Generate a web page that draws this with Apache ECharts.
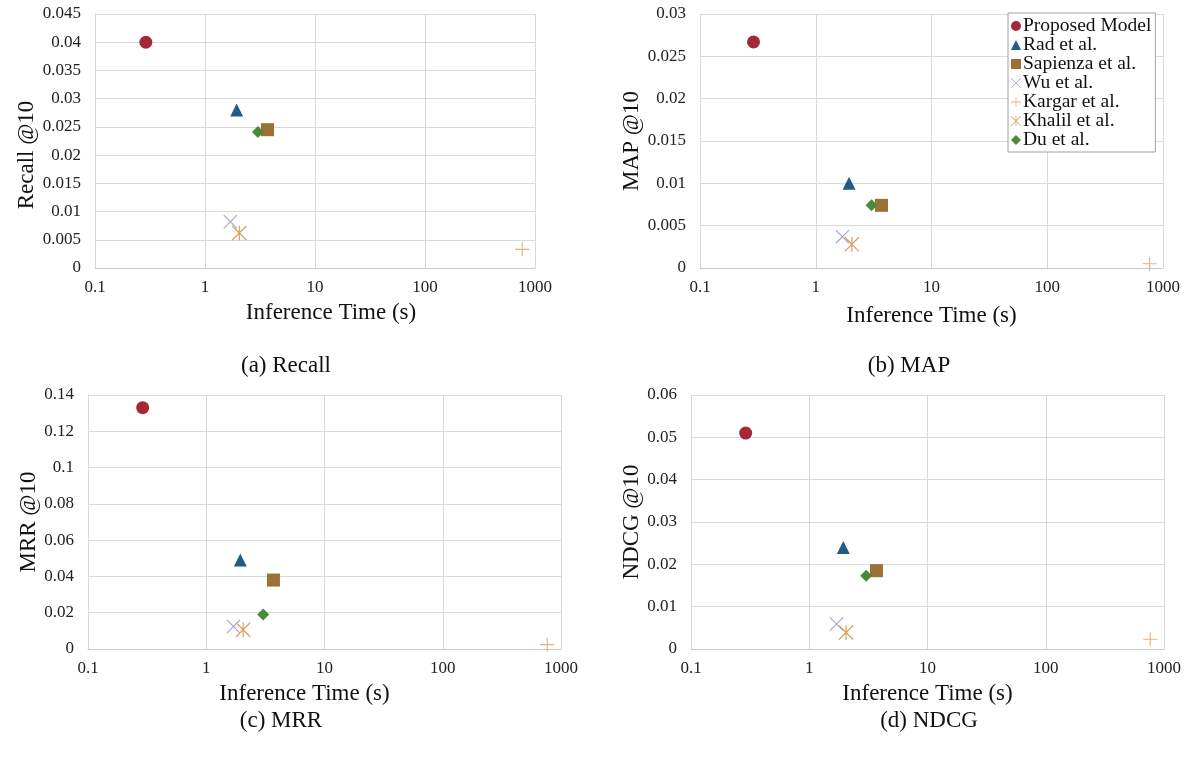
<!DOCTYPE html>
<html>
<head>
<meta charset="utf-8">
<script src="https://cdn.jsdelivr.net/npm/echarts@6/dist/echarts.min.js"></script>
<style>html,body{margin:0;padding:0;background:#fff}#c{width:1199px;height:761px}</style>
</head>
<body>
<div id="c"></div>
<script>
// ---- data ----
const models = ['Proposed Model', 'Rad et al.', 'Sapienza et al.', 'Wu et al.', 'Kargar et al.', 'Khalil et al.', 'Du et al.'];
const inferenceTime = [0.29, 1.94, 3.7, 1.7, 765, 2.05, 3.03];
const recall = [0.040, 0.028, 0.0245, 0.0082, 0.0033, 0.0062, 0.0241];
const map = [0.0267, 0.0100, 0.0074, 0.0037, 0.0005, 0.0028, 0.0074];
const mrr = [0.133, 0.049, 0.038, 0.0124, 0.0024, 0.0106, 0.019];
const ndcg = [0.051, 0.024, 0.0185, 0.0059, 0.0023, 0.0039, 0.0173];
const xTicks = [0.1, 1, 10, 100, 1000];
const panelTitles = ['Recall @10', 'MAP @10', 'MRR @10', 'NDCG @10'];
const captions = ['(a) Recall', '(b) MAP', '(c) MRR', '(d) NDCG'];
const yMax = [0.045, 0.03, 0.14, 0.06];
const yStep = [0.005, 0.005, 0.02, 0.01];

// ---- styles ----
const FONT = 'Liberation Serif';
const colors = ['#A5283A', '#1F5C86', '#9A7236', '#A9A6C8', '#E2B27C', '#D9A264', '#4B8A3C'];
const plusPath = 'path://M4.6,0H5.4V10H4.6ZM0,4.6H10V5.4H0Z';
const xPath = 'path://M0,0.6L0.6,0L10,9.4L9.4,10ZM9.4,0L10,0.6L0.6,10L0,9.4Z';
const starPath = 'path://M0,0.6L0.6,0L10,9.4L9.4,10ZM9.4,0L10,0.6L0.6,10L0,9.4ZM4.6,0H5.4V10H4.6Z';
const symbols = ['circle', 'triangle', 'rect', xPath, plusPath, starPath, 'diamond'];
const sizes = [13, 13, 13, 14, 14, 15, 12];

const grids = [
  {left: 95, width: 440, top: 14, height: 254},
  {left: 700, width: 463, top: 14, height: 254},
  {left: 88, width: 473, top: 395, height: 254},
  {left: 691, width: 473, top: 395, height: 254}
];
const yNameGap = [55, 56, 47, 46];
const yNamePad = [[0, 28, 0, 0], [0, 0, 0, 0], [0, 0, 0, 0], [0, 0, 0, 0]];
const xNameGap = [33, 36, 33, 33];
const xNamePad = [[0, 0, 0, 32], [0, 0, 0, 0], [0, 40, 0, 0], [0, 0, 0, 0]];
const captionPos = [[281, 349], [904, 349], [276, 704], [924, 704]];
const metrics = [recall, map, mrr, ndcg];

const gridLine = {show: true, lineStyle: {color: '#d9d9d9', width: 1}};
const xAxes = grids.map((g, i) => ({
  type: 'log', logBase: 10, gridIndex: i, min: xTicks[0], max: xTicks[xTicks.length - 1],
  name: 'Inference Time (s)', nameLocation: 'middle', nameGap: xNameGap[i],
  nameTextStyle: {fontFamily: FONT, fontSize: 23, color: '#111', padding: xNamePad[i]},
  axisLine: {show: true, lineStyle: {color: '#c8c8c8'}},
  axisTick: {show: false}, minorTick: {show: false},
  splitLine: gridLine,
  axisLabel: {fontFamily: FONT, fontSize: 17, color: '#222', margin: 11,
    formatter: v => String(+v.toPrecision(3))}
}));
const yAxes = grids.map((g, i) => ({
  type: 'value', gridIndex: i, min: 0, max: yMax[i], interval: yStep[i],
  name: panelTitles[i], nameLocation: 'middle', nameGap: yNameGap[i],
  nameTextStyle: {fontFamily: FONT, fontSize: 23, color: '#111', padding: yNamePad[i]},
  axisLine: {show: true, lineStyle: {color: '#d9d9d9'}},
  axisTick: {show: false},
  splitLine: gridLine,
  axisLabel: {fontFamily: FONT, fontSize: 17, color: '#222', margin: 14,
    formatter: v => String(+v.toFixed(4))}
}));

const series = [];
metrics.forEach((vals, p) => {
  models.forEach((m, k) => {
    series.push({
      type: 'scatter', name: m, xAxisIndex: p, yAxisIndex: p,
      symbol: symbols[k], symbolSize: sizes[k],
      itemStyle: {color: colors[k], opacity: 1},
      emphasis: {disabled: true},
      data: [[inferenceTime[k], vals[k]]],
      z: 2 + k
    });
  });
});

const titles = captions.map((c, i) => ({
  text: c, left: captionPos[i][0], top: captionPos[i][1], textAlign: 'center',
  textStyle: {fontFamily: FONT, fontSize: 23, fontWeight: 'normal', color: '#111'}
}));

const chart = echarts.init(document.getElementById('c'), null, {renderer: 'canvas'});
chart.setOption({
  animation: false,
  backgroundColor: '#fff',
  title: titles,
  grid: grids,
  xAxis: xAxes,
  yAxis: yAxes,
  legend: {
    data: models, orient: 'vertical', left: 1008, top: 13,
    itemWidth: 10, itemHeight: 10, itemGap: -1,
    padding: [3, 4, 2, 3],
    backgroundColor: '#fff', borderColor: '#a0a0a0', borderWidth: 1,
    textStyle: {fontFamily: FONT, fontSize: 19.5, lineHeight: 17, color: '#111', padding: [0, 0, 0, -3]},
    selectedMode: false
  },
  series: series
});
</script>
</body>
</html>
